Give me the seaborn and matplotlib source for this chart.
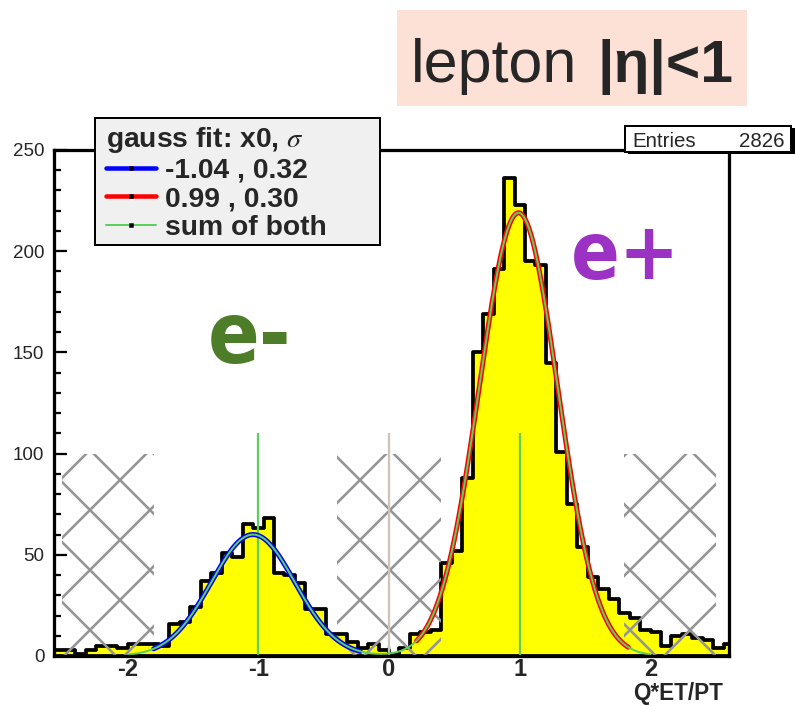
import numpy as np
import pandas as pd
import matplotlib
matplotlib.use("Agg")
import matplotlib.pyplot as plt
import seaborn as sns
from matplotlib.lines import Line2D
from matplotlib.patches import Rectangle
from matplotlib.ticker import MultipleLocator

W, H, DPI = 795, 705, 180

# ---------------- data ----------------
bin_start = -2.56
bin_width = 0.08
counts = [3, 3, 1, 3, 5, 5, 4, 6, 6, 6, 5,
          16, 17, 24, 37, 41, 51, 49, 65, 63, 68, 41, 40, 36, 23, 23, 11, 11, 7, 4, 6, 3,
          1, 4, 11, 12, 13,
          46, 52, 88, 150, 169, 191, 236, 223, 195, 193, 145, 101, 75, 54, 39, 33, 28,
          21, 19, 13, 12, 5, 10, 11, 9, 8, 4, 6]
entries = 2826

fit_labels = ["-1.04 , 0.32", "0.99 , 0.30"]
fit_x0 = [-1.04, 0.99]
fit_sigma = [0.32, 0.30]
fit_peak = [60.0, 219.0]
fit_lo = [-1.80, 0.21]
fit_hi = [-0.22, 1.83]
fit_colors = ["#0000ff", "#ff0000"]
sum_label = "sum of both"
sum_lo, sum_hi = -2.0, 2.0

cut_lo = [-2.5, -0.4, 1.8]
cut_hi = [-1.8, 0.4, 2.5]
cut_height = 100

marker_x = [-1.0, 1.0]
marker_height = 110
zero_height = 110

x_ticks = [-2, -1, 0, 1, 2]
y_ticks = [0, 50, 100, 150, 200, 250]

GREEN = "#5ccf5c"


def gauss(x, a, m, s):
    return a * np.exp(-0.5 * ((x - m) / s) ** 2)


def fx(px):
    return px / W


def fy(py):
    return 1 - py / H


sns.set_style("ticks")
plt.rcParams["font.family"] = ["Liberation Sans", "DejaVu Sans"]
plt.rcParams["mathtext.fontset"] = "stix"
plt.rcParams["axes.unicode_minus"] = False
plt.rcParams["hatch.linewidth"] = 1.05
plt.rcParams["hatch.color"] = "#969696"

fig = plt.figure(figsize=(W / DPI, H / DPI), dpi=DPI)
ax = fig.add_axes([fx(54.3), fy(656), (729 - 54.3) / W, (656 - 150) / H])

# histogram
edges = [round(bin_start + bin_width * i, 4) for i in range(len(counts) + 1)]
hist_df = pd.DataFrame({
    "x": [round(e + bin_width / 2, 4) for e in edges[:-1]],
    "n": counts,
})
sns.histplot(data=hist_df, x="x", weights="n", bins=edges, element="step", fill=True,
             facecolor="#ffff00", edgecolor="black", linewidth=1.5, alpha=1,
             ax=ax, zorder=1)

# excluded regions
ax.bar(cut_lo, cut_height, width=np.subtract(cut_hi, cut_lo), align="edge",
       fill=False, hatch="x", edgecolor="#969696", linewidth=0, zorder=2)

# reference lines
ax.vlines(marker_x, 0, marker_height, color=GREEN, lw=0.9, zorder=2.5)
ax.vlines([0], 0, zero_height, color="#c9c4b6", lw=0.9, zorder=2.5)

# gaussian fits
for m, s, a, lo, hi, c in zip(fit_x0, fit_sigma, fit_peak, fit_lo, fit_hi, fit_colors):
    xs = np.linspace(lo, hi, 300)
    sns.lineplot(x=xs, y=gauss(xs, a, m, s), color=c, lw=2.0, ax=ax,
                 sort=False, estimator=None, zorder=3)
xs = np.linspace(sum_lo, sum_hi, 600)
ys = sum(gauss(xs, a, m, s) for m, s, a in zip(fit_x0, fit_sigma, fit_peak))
sns.lineplot(x=xs, y=ys, color=GREEN, lw=0.8, ax=ax, sort=False,
             estimator=None, zorder=4)

# axes
ax.set_xlim(-2.56, 2.6)
ax.set_ylim(0, 250)
ax.set_xlabel("")
ax.set_ylabel("")
ax.set_xticks(x_ticks)
ax.set_yticks(y_ticks)
ax.xaxis.set_minor_locator(MultipleLocator(0.2))
ax.yaxis.set_minor_locator(MultipleLocator(10))
ax.tick_params(axis="both", which="both", direction="in", top=False, right=False,
               width=0.9, color="black")
ax.tick_params(axis="y", which="major", length=5, labelsize=7.5, pad=4)
ax.tick_params(axis="y", which="minor", length=2.8)
ax.tick_params(axis="x", which="major", length=4, labelsize=9.5, pad=1)
ax.tick_params(axis="x", which="minor", length=2.2)
for lab in ax.get_xticklabels():
    lab.set_fontweight("bold")
for sp in ax.spines.values():
    sp.set_visible(True)
    sp.set_linewidth(1.3)
    sp.set_color("black")
    sp.set_zorder(5)

fig.text(fx(723), fy(700), "Q*ET/PT", ha="right", va="baseline",
         fontsize=9, fontweight="bold")

# particle labels
ax.text(fx(250), fy(363), "e-", transform=fig.transFigure, ha="center",
        va="baseline", fontsize=34, fontweight="bold", fontstretch="condensed",
        family="DejaVu Sans", color="#4e7d29")
ax.text(fx(626), fy(279), "e+", transform=fig.transFigure, ha="center",
        va="baseline", fontsize=32, fontweight="bold", fontstretch="condensed",
        family="DejaVu Sans", color="#9b32c3")

# title box
fig.patches.append(Rectangle((fx(397), fy(106)), (747 - 397) / W, (106 - 10) / H,
                             transform=fig.transFigure, facecolor="#fde0d6",
                             edgecolor="none", zorder=0))
fig.text(fx(577), fy(82), "lepton", ha="right", va="baseline", fontsize=24.4)
fig.text(fx(597), fy(82), "|η|<1", ha="left", va="baseline", fontsize=23.5,
         fontweight="bold")

# statistics box
fig.patches.append(Rectangle((fx(628), fy(154)), (793 - 626) / W, (154 - 128) / H,
                             transform=fig.transFigure, facecolor="black",
                             edgecolor="none", zorder=6))
fig.patches.append(Rectangle((fx(625), fy(152)), (791 - 625) / W, (152 - 126) / H,
                             transform=fig.transFigure, facecolor="white",
                             edgecolor="black", lw=0.8, zorder=7))
fig.text(fx(632), fy(147), "Entries", ha="left", va="baseline", fontsize=8.2, zorder=8)
fig.text(fx(784), fy(147), f"{entries}", ha="right", va="baseline", fontsize=8.2, zorder=8)

# legend: grey panel drawn separately, entries placed inside it
fig.patches.append(Rectangle((fx(95), fy(245)), (380 - 95) / W, (245 - 118) / H,
                             transform=fig.transFigure, facecolor="#f0f0f0",
                             edgecolor="black", lw=0.8, zorder=9))
handles = [Line2D([0], [0], color=c, lw=1.8, marker="s", ms=0.8,
                  mfc="black", mec="black") for c in fit_colors]
handles.append(Line2D([0], [0], color=GREEN, lw=0.8, marker="s", ms=0.8,
                      mfc="black", mec="black"))
leg = fig.legend(handles, fit_labels + [sum_label], loc="upper left",
                 bbox_to_anchor=(fx(99), fy(245), 281 / W, 127 / H), mode="expand",
                 title="gauss fit: x0, $\\sigma$", alignment="left",
                 prop={"weight": "bold", "size": 11.3},
                 title_fontproperties={"weight": "bold", "size": 11.3},
                 frameon=False, handlelength=1.75, handletextpad=0.35,
                 labelspacing=0.1, borderpad=0.25, borderaxespad=0)
leg.set_zorder(10)
leg._legend_box.sep = 1

fig.savefig("out.png", dpi=DPI)
